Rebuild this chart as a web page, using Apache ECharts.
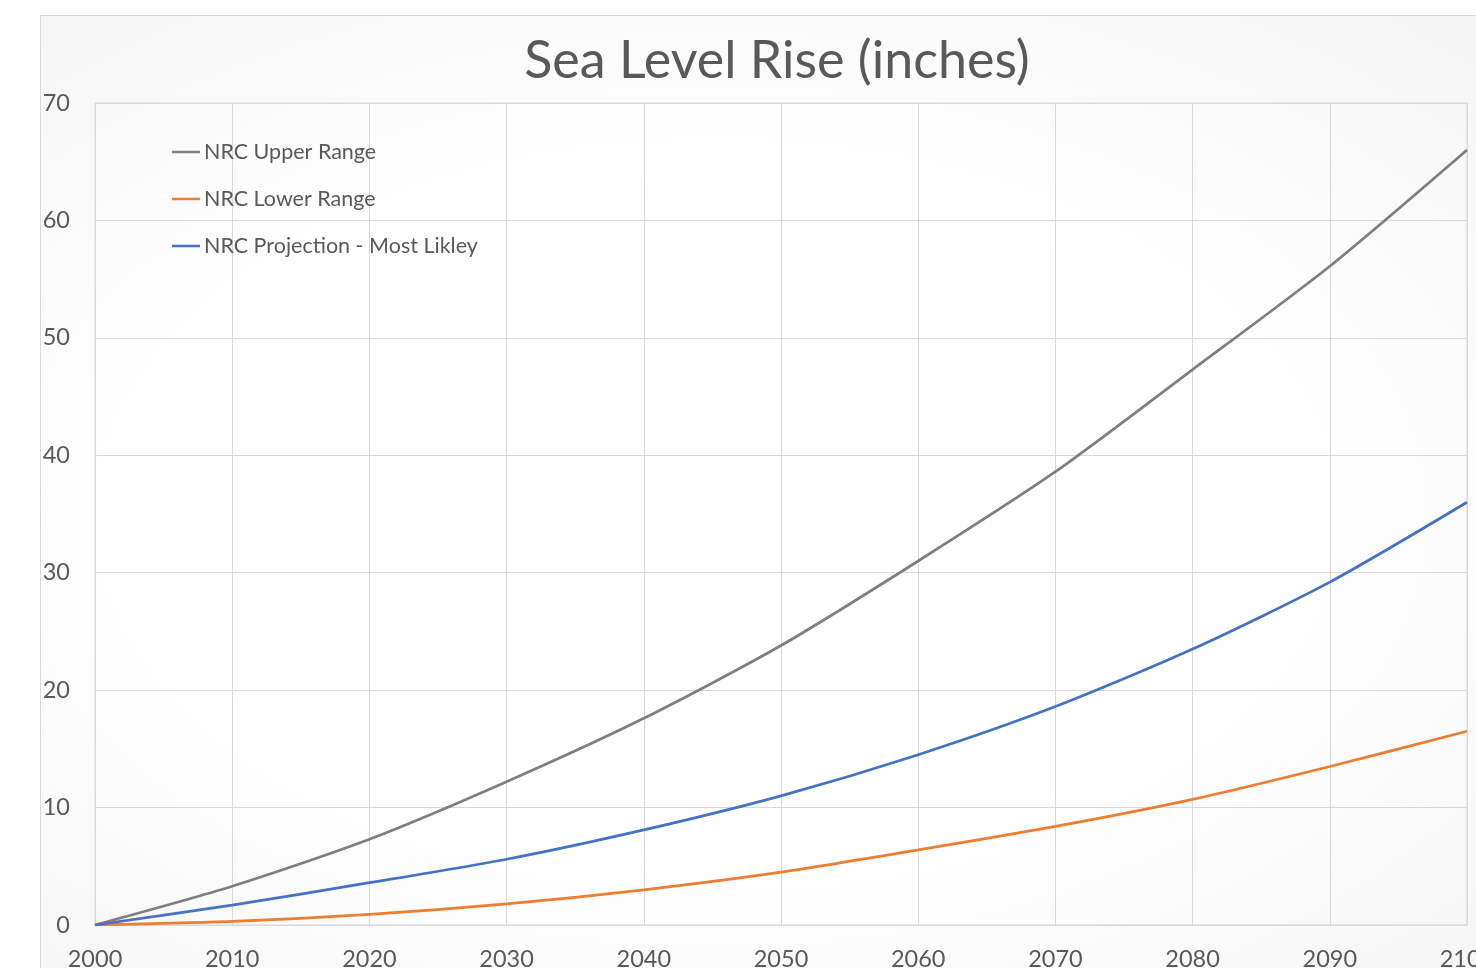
<!DOCTYPE html>
<html>
<head>
<meta charset="utf-8">
<script src="https://cdn.jsdelivr.net/npm/echarts@6/dist/echarts.min.js"></script>
<style>
  html, body { margin: 0; padding: 0; background: #fff; overflow: hidden; }
  #frame {
    position: absolute; left: 40px; top: 15px; width: 1500px; height: 1000px;
    border: 1px solid #d9d9d9;
    background: radial-gradient(ellipse at 45% 50%, #ffffff 45%, #f4f4f4 100%);
  }
  #chart { position: absolute; left: 0; top: 0; width: 1476px; height: 968px; }
</style>
</head>
<body>
<div id="frame"></div>
<div id="chart"></div>
<script>
// years on the x axis
const years = [2000, 2010, 2020, 2030, 2040, 2050, 2060, 2070, 2080, 2090, 2100];
// sea level rise, inches
const upperRange = [0, 3.3, 7.3, 12.2, 17.6, 23.8, 31.0, 38.6, 47.3, 56.1, 66.0];
const lowerRange = [0, 0.3, 0.9, 1.8, 3.0, 4.5, 6.4, 8.4, 10.7, 13.5, 16.5];
const mostLikely = [0, 1.7, 3.6, 5.6, 8.1, 11.0, 14.5, 18.6, 23.5, 29.2, 36.0];

const seriesNames = ["NRC Upper Range", "NRC Lower Range", "NRC Projection - Most Likley"];
const seriesColors = ["#7f7f7f", "#ed7d31", "#4472c4"];

const font = "Lato, 'Open Sans', sans-serif";
const textColor = "#595959";
const gridColor = "#d9d9d9";

function pairs(values) {
  return years.map((y, i) => [y, values[i]]);
}

function makeLine(name, values, color) {
  return {
    name: name,
    type: "line",
    data: pairs(values),
    smooth: 0.25,
    symbol: "none",
    lineStyle: { color: color, width: 2.75 },
    itemStyle: { color: color },
  };
}

const chart = echarts.init(document.getElementById("chart"), null, { renderer: "canvas" });

chart.setOption({
  backgroundColor: "transparent",
  animation: false,
  textStyle: { fontFamily: font },
  title: {
    text: "Sea Level Rise (inches)",
    left: 772,
    top: 30,
    textAlign: "center",
    textStyle: { fontFamily: font, fontSize: 52, fontWeight: "normal", color: textColor },
  },
  legend: {
    orient: "vertical",
    left: 172,
    top: 141,
    padding: 0,
    itemWidth: 28,
    itemHeight: 14,
    itemGap: 25,
    icon: "path://M0,6 L28,6 L28,8.5 L0,8.5 Z",
    textStyle: { fontFamily: font, fontSize: 21.5, color: textColor, padding: [0, 0, 0, -1] },
    data: seriesNames,
  },
  grid: {
    left: 95,
    right: 9,
    top: 103,
    bottom: 43,
    outerBoundsMode: "none",
    show: true,
    borderColor: gridColor,
    borderWidth: 1,
    backgroundColor: "transparent",
  },
  xAxis: {
    type: "value",
    min: 2000,
    max: 2100,
    interval: 10,
    axisLine: { show: true, lineStyle: { color: gridColor } },
    axisTick: { show: false },
    splitLine: { show: true, lineStyle: { color: gridColor, width: 1 } },
    axisLabel: { fontFamily: font, fontSize: 23.5, color: textColor, margin: 22, formatter: (v) => String(v) },
  },
  yAxis: {
    type: "value",
    min: 0,
    max: 70,
    interval: 10,
    axisLine: { show: true, lineStyle: { color: gridColor } },
    axisTick: { show: false },
    splitLine: { show: true, lineStyle: { color: gridColor, width: 1 } },
    axisLabel: { fontFamily: font, fontSize: 23.5, color: textColor, margin: 25 },
  },
  series: [
    makeLine(seriesNames[0], upperRange, seriesColors[0]),
    makeLine(seriesNames[1], lowerRange, seriesColors[1]),
    makeLine(seriesNames[2], mostLikely, seriesColors[2]),
  ],
});
</script>
</body>
</html>
